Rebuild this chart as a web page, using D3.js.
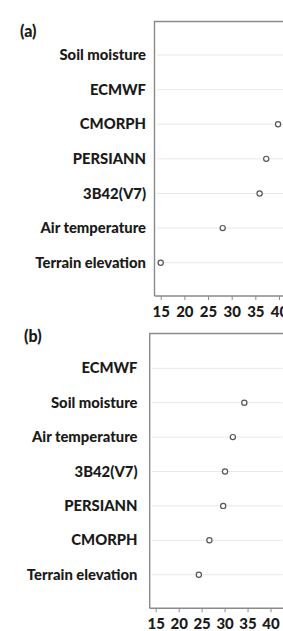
<!DOCTYPE html>
<html><head><meta charset="utf-8">
<script src="https://cdn.jsdelivr.net/npm/d3@7"></script>
<style>
html,body{margin:0;padding:0;background:#fff;}
svg{display:block;}
text{font-family:Lato,"Open Sans",sans-serif;font-weight:900;fill:#1a1a1a;}
</style></head>
<body>
<script>
// Panel (a)
const categoriesA = ["Soil moisture","ECMWF","CMORPH","PERSIANN","3B42(V7)","Air temperature","Terrain elevation"];
const valuesA = [null, null, 39.8, 37.3, 35.9, 28.1, 15.0];
// Panel (b)
const categoriesB = ["ECMWF","Soil moisture","Air temperature","3B42(V7)","PERSIANN","CMORPH","Terrain elevation"];
const valuesB = [null, 34.3, 31.8, 30.1, 29.7, 26.7, 24.4];
const tickValues = [15,20,25,30,35,40];
const panelLabels = ["(a)","(b)"];

const W = 283, H = 631;
const svg = d3.select("body").append("svg").attr("width", W).attr("height", H);

function panel(cfg, cats, vals, label){
  const g = svg.append("g");
  const x = d3.scaleLinear().domain([15,40]).range([cfg.x15, cfg.x40]);
  const y = d3.scalePoint().domain(cats).range([cfg.yTop, cfg.yBot]);
  // gridlines
  g.selectAll("line.grid").data(cats).join("line")
    .attr("x1", cfg.left + 3).attr("x2", W + 20)
    .attr("y1", d => y(d)).attr("y2", d => y(d))
    .attr("stroke", "#d0d0d0").attr("stroke-width", 1).attr("stroke-dasharray", "1,1");
  // frame: top and left
  g.append("path")
    .attr("d", `M${W+20},${cfg.top}H${cfg.left}V${cfg.axisY}`)
    .attr("fill","none").attr("stroke","#8a8a8a").attr("stroke-width",1.4);
  // x axis
  const ax = g.append("g").attr("transform", `translate(0,${cfg.axisY})`)
    .call(d3.axisBottom(x).tickValues(tickValues).tickSize(4).tickSizeOuter(0).tickPadding(6));
  ax.attr("font-size", null).attr("font-family", null);
  ax.select(".domain").attr("stroke","#8a8a8a").attr("stroke-width",1.4)
    .attr("d", `M${cfg.left},0H${W+20}`);
  ax.selectAll(".tick line").attr("stroke","#8a8a8a").attr("stroke-width",1);
  ax.selectAll(".tick text").style("font-size", "15px").style("font-weight","900")
    .style("font-family","Lato, 'Open Sans', sans-serif").attr("fill","#1a1a1a");
  // category labels
  g.selectAll("text.cat").data(cats).join("text")
    .attr("class","cat")
    .attr("x", cfg.labelX).attr("y", d => y(d)).attr("dy","0.35em")
    .attr("text-anchor","end").style("font-size", "14.8px")
    .text(d => d);
  // points
  const pts = cats.map((c,i) => ({c, v: vals[i]})).filter(d => d.v != null);
  g.selectAll("circle").data(pts).join("circle")
    .attr("cx", d => x(d.v)).attr("cy", d => y(d.c)).attr("r", 2.6)
    .attr("fill","#fff").attr("stroke","#555").attr("stroke-width",1.2);
  // panel label
  g.append("text").attr("x", cfg.px).attr("y", cfg.py).attr("dy","0.35em")
    .style("font-size", "16px").text(label);
}

panel({x15:160.7, x40:279, yTop:55, yBot:262.7, left:154.5, top:21.5, axisY:296, labelX:146, px:20, py:31},
      categoriesA, valuesA, panelLabels[0]);
panel({x15:155.7, x40:270.5, yTop:368.3, yBot:574.7, left:149.7, top:333.5, axisY:608.3, labelX:137.5, px:24, py:336},
      categoriesB, valuesB, panelLabels[1]);
</script>
</body></html>
